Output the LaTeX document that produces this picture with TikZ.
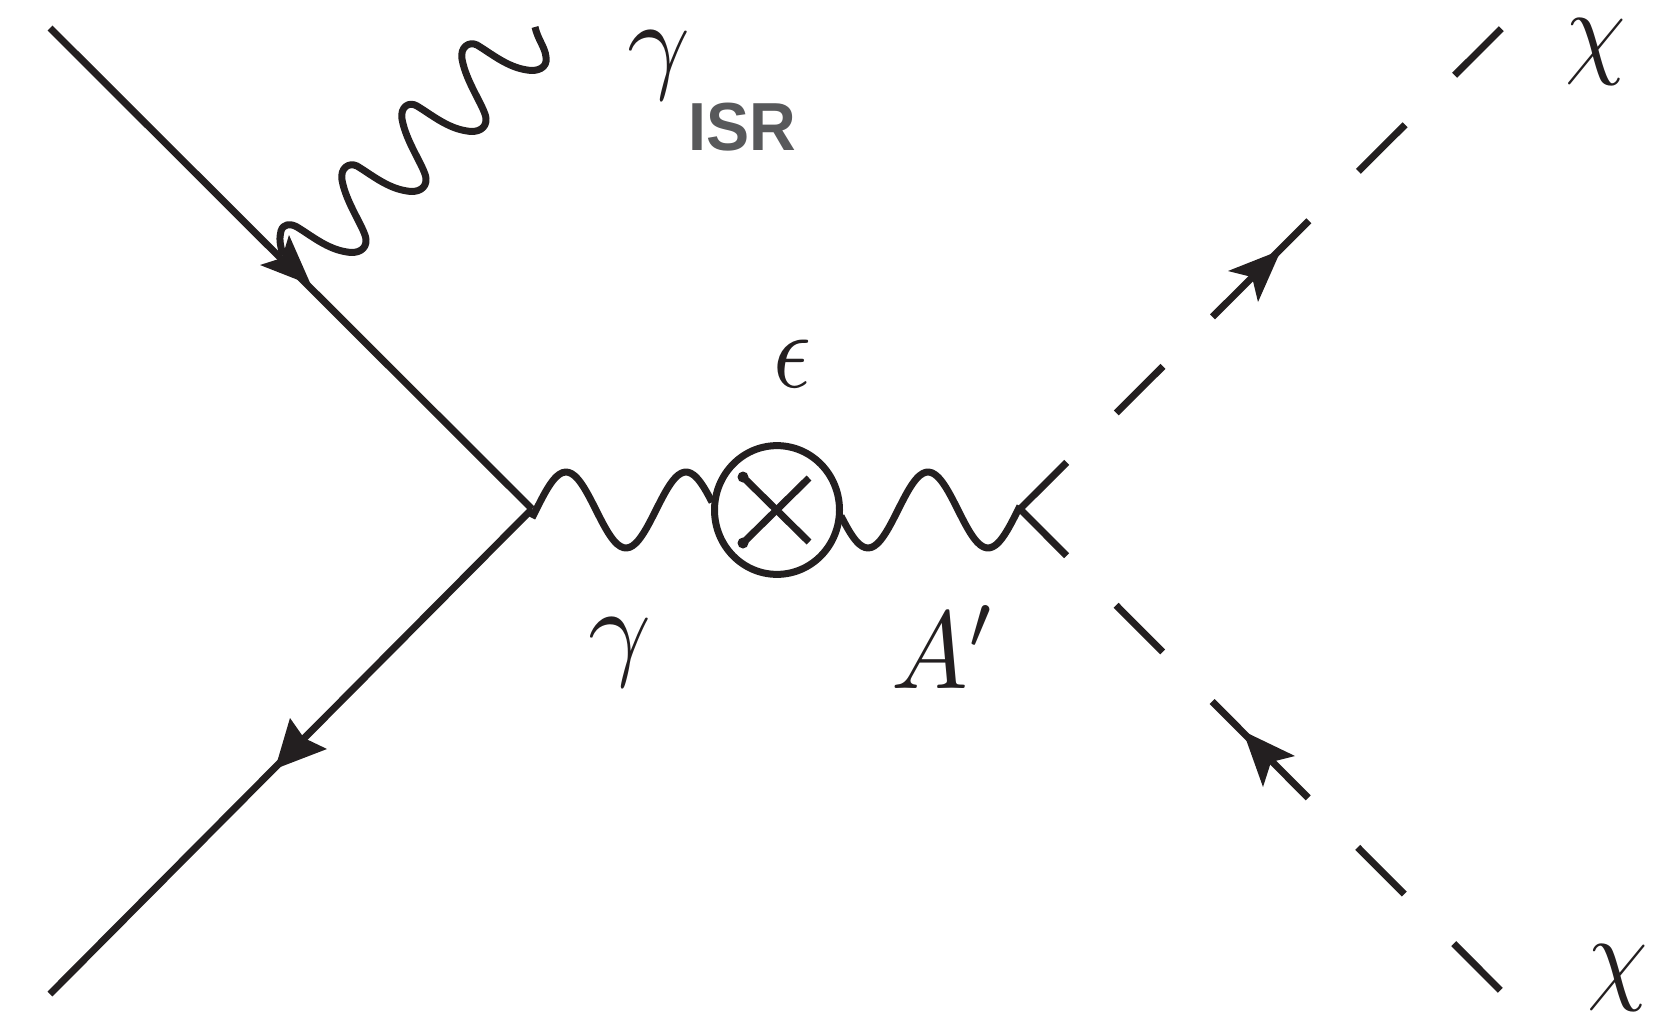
\documentclass[tikz,border=0pt]{standalone}
\usepackage{fontspec}
\newfontfamily\isrfont{Liberation Sans}
\definecolor{ink}{HTML}{231F20}
\definecolor{isrgrey}{HTML}{58595B}
\tikzset{
  fermion/.style={draw=ink,line width=7pt},
  wavy/.style={draw=ink,line width=7pt,line join=round},
  scalar/.style={draw=ink,line width=7pt,dash pattern=on 66pt off 70pt on 66pt off 70pt on 136pt off 70pt on 66pt off 70pt on 66pt},
  head/.style={fill=ink,draw=none},
  lab/.style={inner sep=0pt,text=ink,scale=11},
  xmark/.style={circle,draw=ink,line width=7pt,minimum size=125pt,inner sep=0pt,yscale=1.03},
  crossbar/.style={draw=ink,line width=7pt},
}
\begin{document}
\begin{tikzpicture}[x=1pt,y=-1pt]
\useasboundingbox (0,0) rectangle (1676,1018);
\coordinate (v1) at (532,509);
\coordinate (v2) at (1020,509);
\coordinate (inTop) at (50,28);
\coordinate (inBot) at (50,994);
\coordinate (outTop) at (1503,27);
\coordinate (outBot) at (1503,993);
\node[xmark] (cross) at (777,510) {};
% fermions
\draw[fermion] (inTop) -- (v1);
\draw[fermion] (v1) -- (inBot);
% scalars
\draw[scalar] (v2) -- (outTop);
\draw[scalar] (v2) -- (outBot);
% arrows
\fill[head] (311,285) -- (260,265) -- (282,258) -- (289,235) -- cycle;
\fill[head] (275,769) -- (327,749) -- (304,738) -- (290,718) -- cycle;
\fill[head] (1281,250) -- (1228,271) -- (1252,277) -- (1258,302) -- cycle;
\fill[head] (1243,731) -- (1295,756) -- (1271,762) -- (1263,787) -- cycle;
% cross mark
\draw[crossbar] (cross.center) ++(-34,-33) -- ++(66,65);
\draw[crossbar] (cross.center) ++(-34,33) -- ++(66,-65);
\fill[ink] (743,477) circle (5.5pt) (743,543) circle (5.5pt);
% ISR photon
\draw[wavy] (283,255) .. controls (280,245) and (279,238) .. (281,231)
  .. controls (283,224) and (290,223) .. (297,227)
  .. controls (312,236) and (327,249) .. (347,252)
  .. controls (357,254) and (367,250) .. (366,239)
  .. controls (364,227) and (346,203) .. (342,180)
  .. controls (340,168) and (349,162) .. (357,166)
  .. controls (372,175) and (387,188) .. (407,191)
  .. controls (417,193) and (427,189) .. (426,178)
  .. controls (424,166) and (406,142) .. (402,119)
  .. controls (400,107) and (409,101) .. (417,106)
  .. controls (432,115) and (447,128) .. (467,131)
  .. controls (477,133) and (487,129) .. (486,118)
  .. controls (484,106) and (466,82) .. (462,59)
  .. controls (460,47) and (469,41) .. (477,45)
  .. controls (492,54) and (507,67) .. (527,70)
  .. controls (537,72) and (548,68) .. (546,57)
  .. controls (545,47) and (538,40) .. (535,27);
% photon / dark photon
\draw[wavy] plot[domain=532:712,samples=60,smooth] (\x,{510-38*sin(3*(\x-536))});
\draw[wavy] plot[domain=841:1020,samples=60,smooth] (\x,{510-38*sin(3*(\x-898))});
% labels
\node[lab] (gisr) at (659,66) {$\gamma$};
\node[inner sep=0pt,text=isrgrey,font=\isrfont\bfseries\fontsize{68}{68}\selectfont,xscale=.95] (isr) at (742,127) {ISR};
\node[lab,xscale=.85] (eps) at (792,364) {$\epsilon$};
\node[lab] (gam) at (620,653) {$\gamma$};
\node[lab,xscale=.93] (ap) at (944,647) {$A'$};
\node[lab,xscale=.88,yscale=.96] (chi1) at (1596,52) {$\chi$};
\node[lab,xscale=.88,yscale=.96] (chi2) at (1618,978) {$\chi$};
\end{tikzpicture}
\end{document}
